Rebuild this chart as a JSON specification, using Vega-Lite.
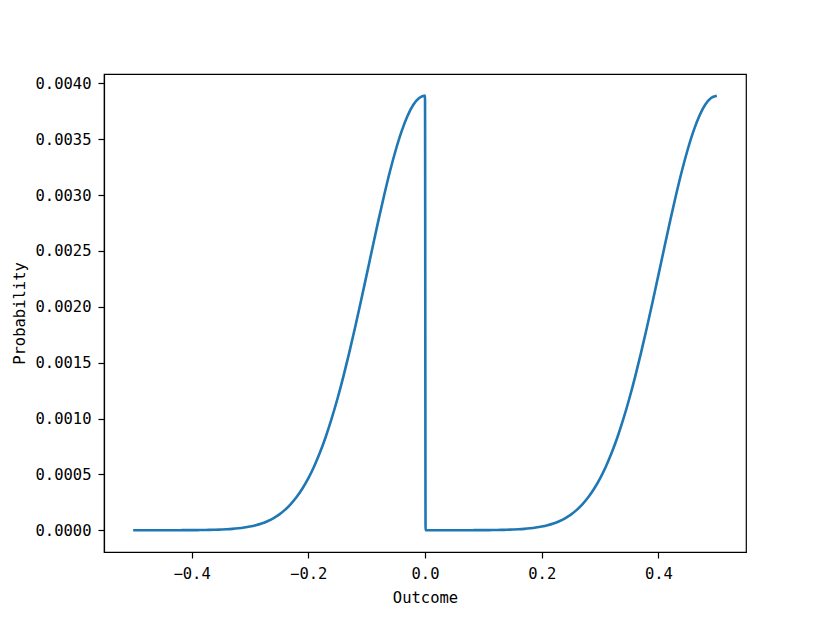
{
  "$schema": "https://vega.github.io/schema/vega-lite/v6.json",
  "width": 642,
  "height": 478,
  "autosize": {"type": "none"},
  "padding": {"left": 104, "top": 74, "right": 84, "bottom": 70},
  "background": "white",
  "data": {"values": [
    {"outcome": -0.50, "probability": 0},
    {"outcome": -0.49, "probability": 0},
    {"outcome": -0.48, "probability": 0},
    {"outcome": -0.47, "probability": 0},
    {"outcome": -0.46, "probability": 0},
    {"outcome": -0.45, "probability": 0},
    {"outcome": -0.44, "probability": 0.0000001},
    {"outcome": -0.43, "probability": 0.0000002},
    {"outcome": -0.42, "probability": 0.0000003},
    {"outcome": -0.41, "probability": 0.0000005},
    {"outcome": -0.40, "probability": 0.0000008},
    {"outcome": -0.39, "probability": 0.0000012},
    {"outcome": -0.38, "probability": 0.0000018},
    {"outcome": -0.37, "probability": 0.0000027},
    {"outcome": -0.36, "probability": 0.0000040},
    {"outcome": -0.35, "probability": 0.0000058},
    {"outcome": -0.34, "probability": 0.0000084},
    {"outcome": -0.33, "probability": 0.0000120},
    {"outcome": -0.32, "probability": 0.0000169},
    {"outcome": -0.31, "probability": 0.0000236},
    {"outcome": -0.30, "probability": 0.0000326},
    {"outcome": -0.29, "probability": 0.0000446},
    {"outcome": -0.28, "probability": 0.0000603},
    {"outcome": -0.27, "probability": 0.0000808},
    {"outcome": -0.26, "probability": 0.000107},
    {"outcome": -0.25, "probability": 0.000140},
    {"outcome": -0.24, "probability": 0.000182},
    {"outcome": -0.23, "probability": 0.000234},
    {"outcome": -0.22, "probability": 0.000297},
    {"outcome": -0.21, "probability": 0.000373},
    {"outcome": -0.20, "probability": 0.000464},
    {"outcome": -0.19, "probability": 0.000571},
    {"outcome": -0.18, "probability": 0.000695},
    {"outcome": -0.17, "probability": 0.000837},
    {"outcome": -0.16, "probability": 0.000998},
    {"outcome": -0.15, "probability": 0.001177},
    {"outcome": -0.14, "probability": 0.001373},
    {"outcome": -0.13, "probability": 0.001585},
    {"outcome": -0.12, "probability": 0.001810},
    {"outcome": -0.11, "probability": 0.002045},
    {"outcome": -0.10, "probability": 0.002286},
    {"outcome": -0.09, "probability": 0.002529},
    {"outcome": -0.08, "probability": 0.002769},
    {"outcome": -0.07, "probability": 0.002998},
    {"outcome": -0.06, "probability": 0.003213},
    {"outcome": -0.05, "probability": 0.003406},
    {"outcome": -0.04, "probability": 0.003573},
    {"outcome": -0.03, "probability": 0.003708},
    {"outcome": -0.02, "probability": 0.003808},
    {"outcome": -0.01, "probability": 0.003869},
    {"outcome": 0.00, "probability": 0.003890},
    {"outcome": 0.001, "probability": 0},
    {"outcome": 0.01, "probability": 0},
    {"outcome": 0.02, "probability": 0},
    {"outcome": 0.03, "probability": 0},
    {"outcome": 0.04, "probability": 0},
    {"outcome": 0.05, "probability": 0},
    {"outcome": 0.06, "probability": 0.0000001},
    {"outcome": 0.07, "probability": 0.0000002},
    {"outcome": 0.08, "probability": 0.0000003},
    {"outcome": 0.09, "probability": 0.0000005},
    {"outcome": 0.10, "probability": 0.0000008},
    {"outcome": 0.11, "probability": 0.0000012},
    {"outcome": 0.12, "probability": 0.0000018},
    {"outcome": 0.13, "probability": 0.0000027},
    {"outcome": 0.14, "probability": 0.0000040},
    {"outcome": 0.15, "probability": 0.0000058},
    {"outcome": 0.16, "probability": 0.0000084},
    {"outcome": 0.17, "probability": 0.0000120},
    {"outcome": 0.18, "probability": 0.0000169},
    {"outcome": 0.19, "probability": 0.0000236},
    {"outcome": 0.20, "probability": 0.0000326},
    {"outcome": 0.21, "probability": 0.0000446},
    {"outcome": 0.22, "probability": 0.0000603},
    {"outcome": 0.23, "probability": 0.0000808},
    {"outcome": 0.24, "probability": 0.000107},
    {"outcome": 0.25, "probability": 0.000140},
    {"outcome": 0.26, "probability": 0.000182},
    {"outcome": 0.27, "probability": 0.000234},
    {"outcome": 0.28, "probability": 0.000297},
    {"outcome": 0.29, "probability": 0.000373},
    {"outcome": 0.30, "probability": 0.000464},
    {"outcome": 0.31, "probability": 0.000571},
    {"outcome": 0.32, "probability": 0.000695},
    {"outcome": 0.33, "probability": 0.000837},
    {"outcome": 0.34, "probability": 0.000998},
    {"outcome": 0.35, "probability": 0.001177},
    {"outcome": 0.36, "probability": 0.001373},
    {"outcome": 0.37, "probability": 0.001585},
    {"outcome": 0.38, "probability": 0.001810},
    {"outcome": 0.39, "probability": 0.002045},
    {"outcome": 0.40, "probability": 0.002286},
    {"outcome": 0.41, "probability": 0.002529},
    {"outcome": 0.42, "probability": 0.002769},
    {"outcome": 0.43, "probability": 0.002998},
    {"outcome": 0.44, "probability": 0.003213},
    {"outcome": 0.45, "probability": 0.003406},
    {"outcome": 0.46, "probability": 0.003573},
    {"outcome": 0.47, "probability": 0.003708},
    {"outcome": 0.48, "probability": 0.003808},
    {"outcome": 0.49, "probability": 0.003869},
    {"outcome": 0.50, "probability": 0.003890}
  ]},
  "mark": {"type": "line", "color": "#1f77b4", "strokeWidth": 2.6, "interpolate": "monotone"},
  "encoding": {
    "x": {
      "field": "outcome", "type": "quantitative", "title": "Outcome",
      "scale": {"domain": [-0.55, 0.55], "nice": false, "zero": false},
      "axis": {"values": [-0.4, -0.2, 0, 0.2, 0.4], "format": ".1f", "labelPadding": 8, "titlePadding": 9}
    },
    "y": {
      "field": "probability", "type": "quantitative", "title": "Probability",
      "scale": {"domain": [-0.000195, 0.004084], "nice": false, "zero": false},
      "axis": {"values": [0, 0.0005, 0.001, 0.0015, 0.002, 0.0025, 0.003, 0.0035, 0.004], "format": ".4f", "labelPadding": 7, "titlePadding": 8}
    }
  },
  "config": {
    "view": {"stroke": "black", "strokeWidth": 1.2},
    "axis": {
      "grid": false,
      "domainColor": "black",
      "domainWidth": 1.2,
      "tickColor": "black",
      "tickWidth": 1.2,
      "tickSize": 6,
      "labelColor": "black",
      "titleColor": "black",
      "labelFont": "DejaVu Sans Mono",
      "titleFont": "DejaVu Sans Mono",
      "labelFontSize": 15.5,
      "titleFontSize": 15.5,
      "titleFontWeight": "normal"
    }
  }
}
